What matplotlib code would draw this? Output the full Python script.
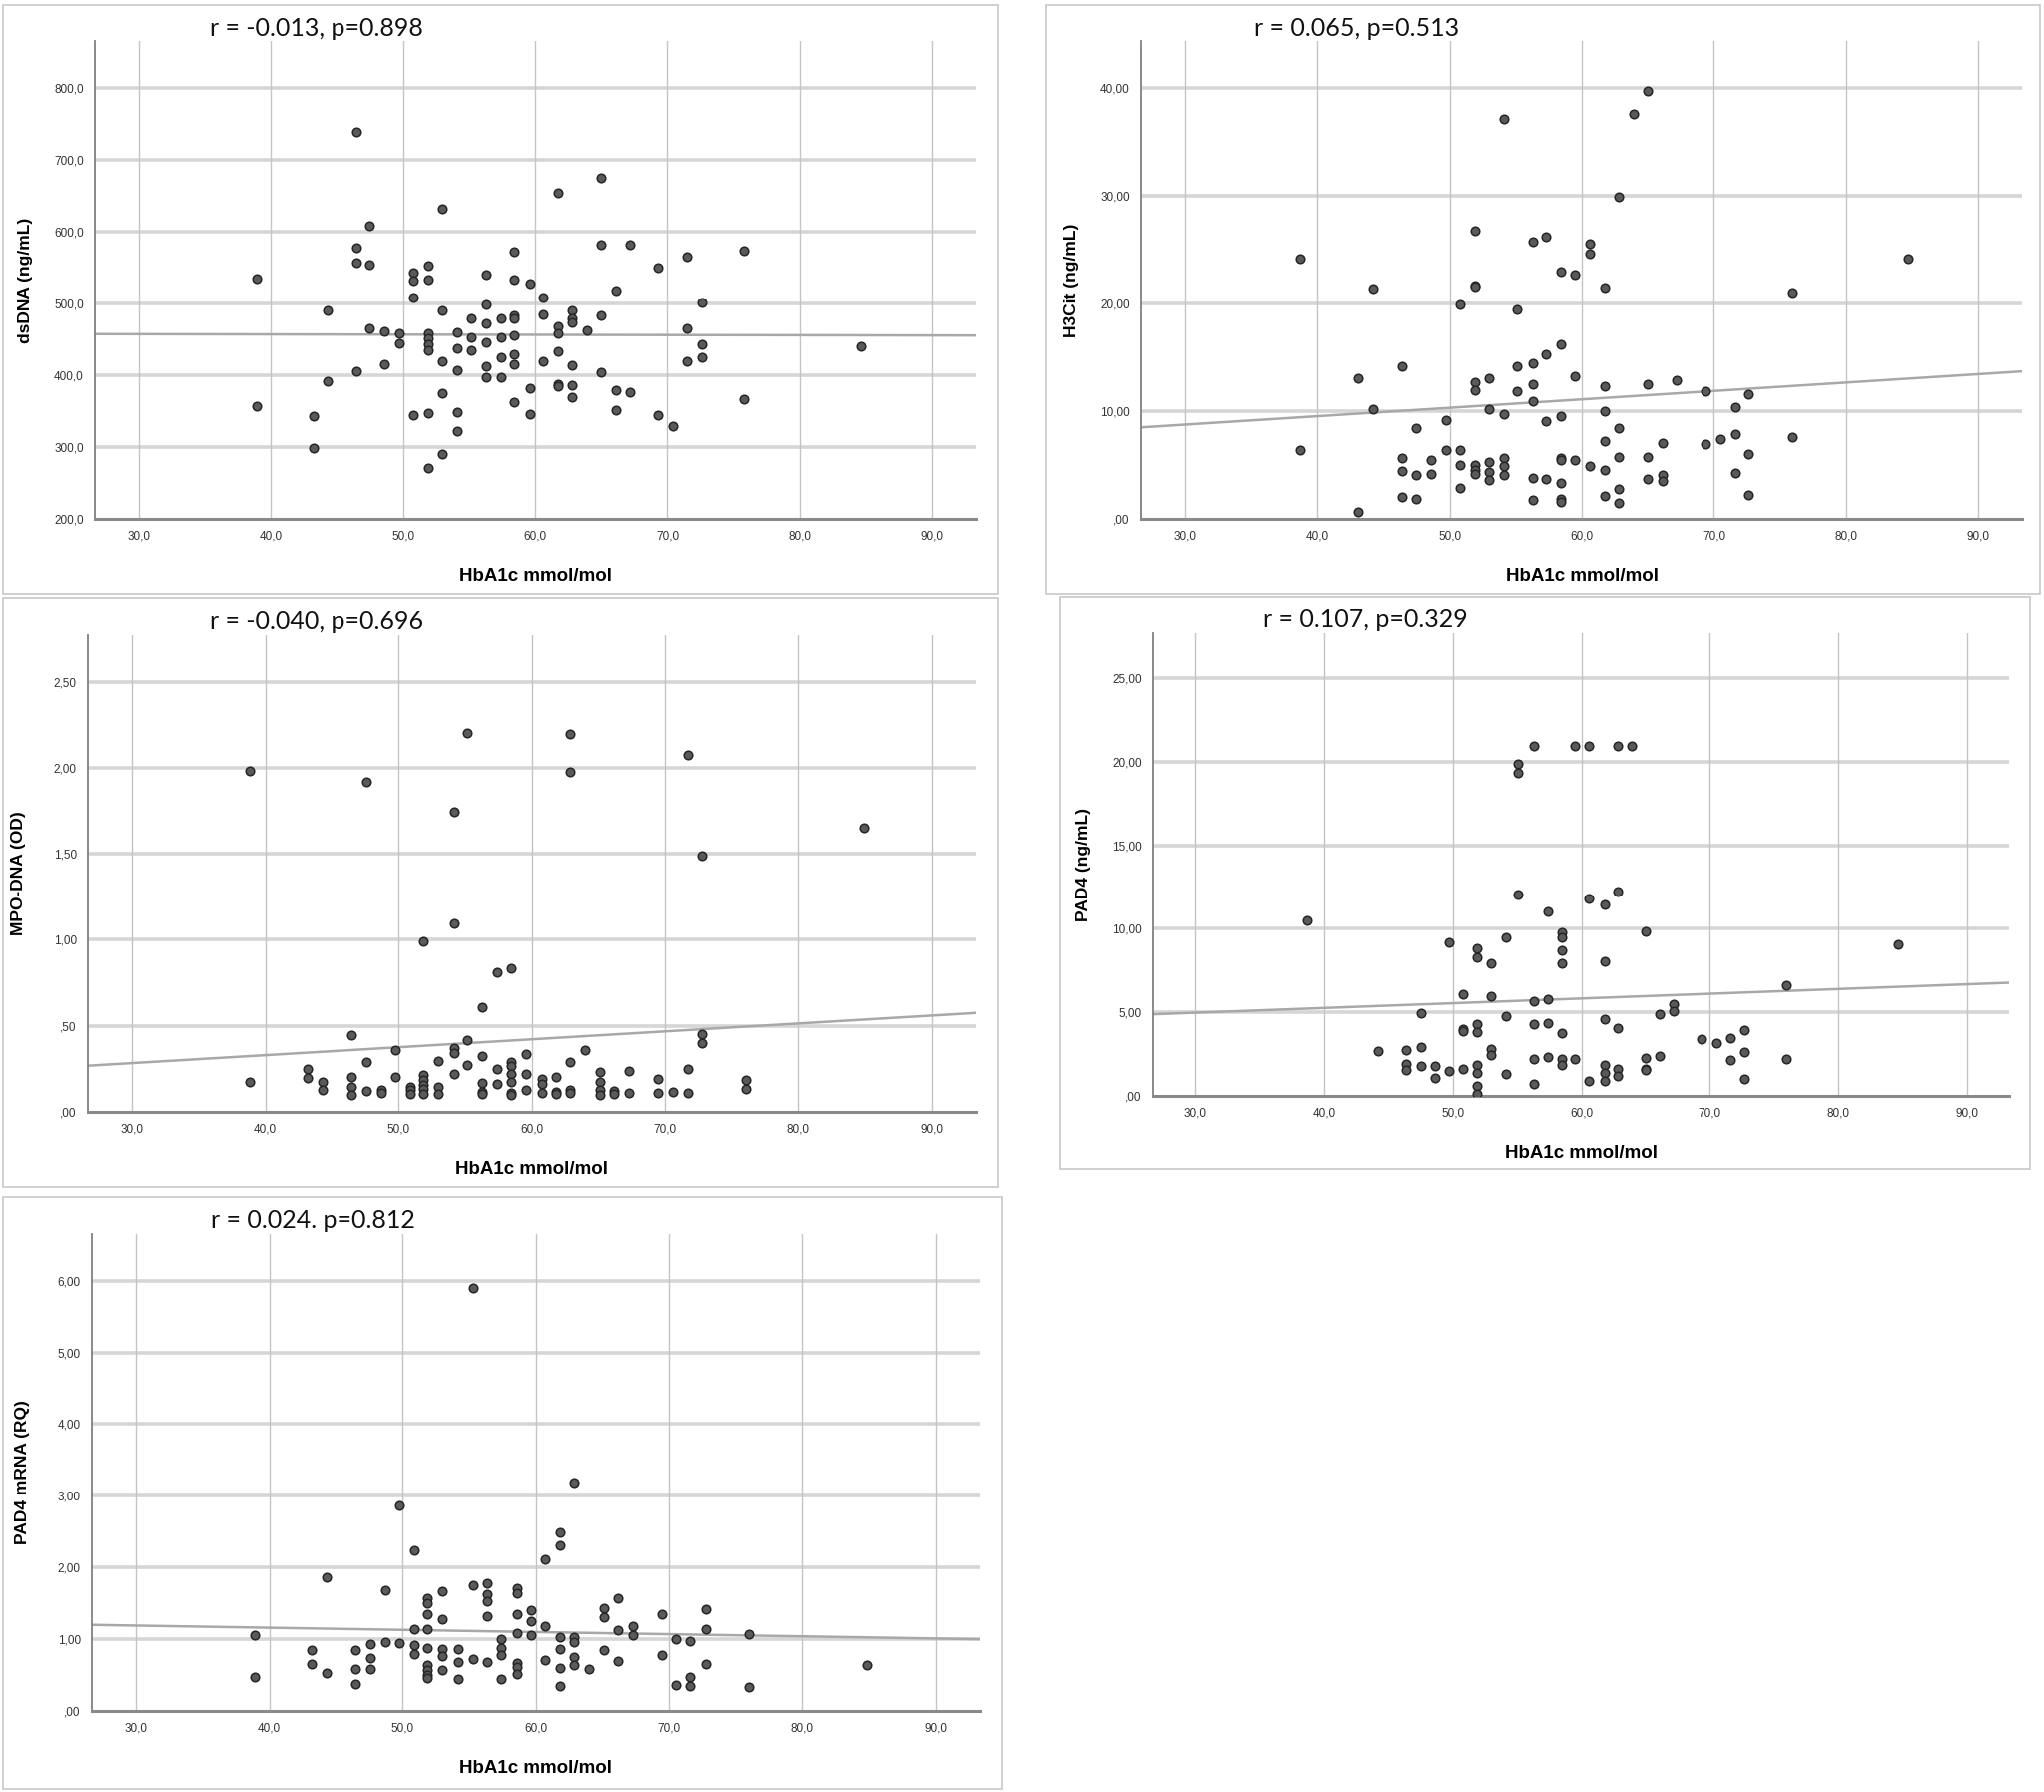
import numpy as np
import matplotlib
matplotlib.use("Agg")
import matplotlib.pyplot as plt
from matplotlib.patches import Rectangle
from matplotlib.ticker import FuncFormatter

plt.rcParams['font.family'] = ['Liberation Sans', 'DejaVu Sans']

# --- data ---
hba1c_dsdna = [46.5, 38.9, 38.9, 43.2, 43.2, 44.3, 44.3, 46.5, 46.5, 46.5, 47.5, 47.5, 47.5,
               48.6, 48.6, 49.7, 49.7, 50.8, 50.8, 50.8, 50.8, 51.9, 51.9, 51.9, 51.9, 51.9,
               51.9, 51.9, 51.9, 53.0, 53.0, 53.0, 53.0, 53.0, 54.1, 54.1, 54.1, 54.1, 54.1,
               55.2, 55.2, 55.2, 56.3, 56.3, 56.3, 56.3, 56.3, 56.3, 57.4, 57.4, 57.4, 57.4,
               58.4, 58.4, 58.4, 58.4, 58.4, 58.4, 58.4, 58.4, 59.6, 59.6, 59.6, 60.6, 60.6,
               60.6, 61.7, 61.7, 61.7, 61.7, 61.7, 61.7, 62.8, 62.8, 62.8, 62.8, 62.8, 62.8,
               63.9, 65.0, 65.0, 65.0, 65.0, 66.1, 66.1, 66.1, 67.2, 67.2, 69.3, 69.3, 70.4,
               71.5, 71.5, 71.5, 72.6, 72.6, 72.6, 75.8, 75.8, 84.6]
dsdna = [739, 535, 357, 343, 299, 392, 490, 578, 558, 406, 609, 555, 465,
         461, 415, 459, 445, 544, 532, 509, 345, 553, 534, 459, 452, 444,
         435, 348, 271, 632, 490, 419, 375, 291, 460, 438, 407, 349, 323,
         479, 453, 435, 541, 499, 473, 446, 413, 398, 480, 453, 425, 398,
         573, 534, 484, 480, 456, 430, 415, 363, 528, 382, 346, 509, 485,
         419, 654, 468, 459, 434, 388, 385, 490, 480, 474, 414, 387, 370,
         463, 675, 582, 483, 404, 518, 380, 352, 583, 377, 551, 344, 330,
         566, 466, 420, 502, 443, 425, 574, 367, 441]

hba1c_h3cit = [38.7, 38.7, 43.1, 43.1, 44.2, 44.2, 46.4, 46.4, 46.4, 46.4, 47.5, 47.5, 47.5,
               48.6, 48.6, 49.7, 49.7, 50.8, 50.8, 50.8, 50.8, 51.9, 51.9, 51.9, 51.9, 51.9,
               51.9, 51.9, 51.9, 53.0, 53.0, 53.0, 53.0, 53.0, 54.1, 54.1, 54.1, 54.1, 54.1,
               55.1, 55.1, 55.1, 56.3, 56.3, 56.3, 56.3, 56.3, 56.3, 57.3, 57.3, 57.3, 57.3,
               58.4, 58.4, 58.4, 58.4, 58.4, 58.4, 58.4, 58.4, 59.5, 59.5, 59.5, 60.6, 60.6,
               60.6, 61.7, 61.7, 61.7, 61.7, 61.7, 61.7, 62.8, 62.8, 62.8, 62.8, 62.8, 63.9,
               65.0, 65.0, 65.0, 65.0, 66.1, 66.1, 66.1, 67.2, 69.4, 69.4, 70.5, 71.6, 71.6,
               71.6, 72.6, 72.6, 72.6, 75.9, 75.9, 84.7]
h3cit = [24.2, 6.36, 13.04, 0.64, 21.4, 10.2, 14.2, 5.65, 4.44, 2.02, 8.42, 4.08, 1.85,
         5.47, 4.16, 9.17, 6.36, 19.9, 6.36, 5.0, 2.88, 26.8, 21.7, 21.6, 12.7, 12.0,
         5.04, 4.58, 4.16, 13.1, 10.2, 5.29, 4.33, 3.62, 37.2, 9.77, 5.68, 4.87, 4.09,
         19.5, 14.2, 11.9, 25.8, 14.5, 12.5, 10.9, 3.84, 1.78, 26.2, 15.3, 9.13, 3.69,
         23.0, 16.2, 9.59, 5.68, 5.47, 3.37, 1.85, 1.56, 22.7, 13.25, 5.47, 25.6, 24.65,
         4.87, 21.5, 12.3, 10.0, 7.25, 4.5, 2.1, 29.9, 8.45, 5.75, 2.74, 1.49, 37.6,
         39.8, 12.5, 5.75, 3.73, 7.07, 4.05, 3.55, 12.9, 11.9, 6.93, 7.42, 10.4, 7.89,
         4.26, 11.6, 6.04, 2.27, 21.0, 7.6, 24.2]

hba1c_mpo = [38.8, 38.8, 43.2, 43.2, 44.3, 44.3, 46.5, 46.5, 46.5, 46.5, 47.6, 47.6, 47.6,
             48.7, 48.7, 49.8, 49.8, 50.9, 50.9, 50.9, 51.9, 51.9, 51.9, 51.9, 51.9, 51.9,
             53.0, 53.0, 53.0, 54.2, 54.2, 54.2, 54.2, 54.2, 55.2, 55.2, 55.2, 56.3, 56.3,
             56.3, 56.3, 56.3, 57.4, 57.4, 57.4, 58.5, 58.5, 58.5, 58.5, 58.5, 58.5, 58.5,
             59.6, 59.6, 59.6, 60.8, 60.8, 60.8, 61.8, 61.8, 61.8, 62.9, 62.9, 62.9, 62.9,
             62.9, 64.0, 65.1, 65.1, 65.1, 65.1, 66.2, 66.2, 67.3, 67.3, 69.5, 69.5, 70.6,
             71.7, 71.7, 71.7, 72.8, 72.8, 72.8, 76.1, 76.1, 84.9]
mpo_dna = [1.98, 0.171, 0.249, 0.198, 0.173, 0.127, 0.447, 0.204, 0.144, 0.100, 1.92, 0.291, 0.122,
           0.129, 0.109, 0.360, 0.200, 0.144, 0.129, 0.107, 0.991, 0.216, 0.184, 0.158, 0.131, 0.107,
           0.296, 0.144, 0.107, 1.742, 1.098, 0.373, 0.344, 0.222, 2.204, 0.418, 0.271, 0.611, 0.327,
           0.167, 0.118, 0.107, 0.811, 0.247, 0.160, 0.836, 0.287, 0.264, 0.222, 0.171, 0.111, 0.098,
           0.338, 0.218, 0.127, 0.189, 0.160, 0.109, 0.202, 0.118, 0.104, 2.196, 1.976, 0.291, 0.127,
           0.109, 0.358, 0.231, 0.171, 0.127, 0.100, 0.122, 0.104, 0.238, 0.109, 0.189, 0.111, 0.116,
           2.076, 0.249, 0.109, 1.487, 0.451, 0.400, 0.184, 0.131, 1.649]

hba1c_pad4 = [38.7, 44.2, 46.4, 46.4, 46.4, 47.5, 47.5, 47.5, 48.6, 48.6, 49.7, 49.7, 50.8,
              50.8, 50.8, 50.8, 51.9, 51.9, 51.9, 51.9, 51.9, 51.9, 51.9, 51.9, 53.0, 53.0,
              53.0, 53.0, 54.1, 54.1, 54.1, 55.1, 55.1, 55.1, 56.3, 56.3, 56.3, 56.3, 56.3,
              57.4, 57.4, 57.4, 57.4, 58.5, 58.5, 58.5, 58.5, 58.5, 58.5, 58.5, 59.5, 59.5,
              60.6, 60.6, 60.6, 61.8, 61.8, 61.8, 61.8, 61.8, 61.8, 62.8, 62.8, 62.8, 62.8,
              62.8, 63.9, 65.0, 65.0, 65.0, 65.0, 66.1, 66.1, 67.2, 67.2, 69.4, 70.5, 71.6,
              71.6, 72.7, 72.7, 72.7, 76.0, 76.0, 84.7]
pad4 = [10.52, 2.70, 2.77, 1.89, 1.53, 4.97, 2.95, 1.78, 1.82, 1.08, 9.22, 1.51, 6.07,
        3.98, 3.89, 1.62, 8.84, 8.27, 4.27, 3.84, 1.87, 1.37, 0.58, 0.11, 7.94, 5.96,
        2.83, 2.45, 9.47, 4.77, 1.33, 12.05, 19.85, 19.33, 20.98, 5.67, 4.32, 2.23, 0.74,
        11.02, 5.78, 4.38, 2.32, 9.80, 9.47, 8.72, 7.94, 3.75, 2.20, 1.84, 20.98, 2.23,
        20.98, 11.83, 0.90, 11.47, 8.07, 4.59, 1.84, 1.39, 0.90, 20.98, 12.21, 4.07, 1.60,
        1.19, 20.98, 9.87, 2.25, 1.60, 1.53, 4.88, 2.36, 5.49, 5.08, 3.39, 3.15, 3.44,
        2.14, 3.93, 2.65, 1.01, 6.61, 2.23, 9.06]

hba1c_mrna = [38.9, 38.9, 43.2, 43.2, 44.3, 44.3, 46.5, 46.5, 46.5, 47.6, 47.6, 47.6, 48.7,
              48.7, 49.8, 49.8, 50.9, 50.9, 50.9, 50.9, 51.9, 51.9, 51.9, 51.9, 51.9, 51.9,
              51.9, 51.9, 51.9, 53.0, 53.0, 53.0, 53.0, 53.0, 54.2, 54.2, 54.2, 55.3, 55.3,
              55.3, 56.4, 56.4, 56.4, 56.4, 56.4, 57.4, 57.4, 57.4, 57.4, 58.6, 58.6, 58.6,
              58.6, 58.6, 58.6, 58.6, 59.7, 59.7, 59.7, 60.7, 60.7, 60.7, 61.8, 61.8, 61.8,
              61.8, 61.8, 61.8, 62.9, 62.9, 62.9, 62.9, 62.9, 64.0, 65.1, 65.1, 65.1, 66.2,
              66.2, 66.2, 67.3, 67.3, 69.5, 69.5, 70.5, 70.5, 71.6, 71.6, 71.6, 72.8, 72.8,
              72.8, 76.0, 76.0, 84.8]
pad4_mrna = [1.056, 0.475, 0.843, 0.651, 1.861, 0.523, 0.843, 0.581, 0.373, 0.928, 0.741, 0.587, 1.685,
             0.960, 2.869, 0.944, 2.235, 1.141, 0.923, 0.795, 1.579, 1.509, 1.349, 1.147, 0.880, 0.640,
             0.571, 0.501, 0.459, 1.669, 1.285, 0.859, 0.768, 0.565, 0.864, 0.677, 0.448, 1.749, 5.893,
             0.720, 1.781, 1.632, 1.525, 1.328, 0.683, 0.997, 0.880, 0.779, 0.448, 1.707, 1.648, 1.349,
             1.083, 0.672, 0.619, 0.517, 1.403, 1.248, 1.061, 2.117, 1.189, 0.709, 2.485, 2.304, 1.024,
             0.869, 0.603, 0.341, 3.179, 1.035, 0.960, 0.752, 0.645, 0.581, 1.435, 1.312, 0.853, 1.568,
             1.125, 0.699, 1.179, 1.056, 1.349, 0.784, 1.003, 0.357, 0.976, 0.475, 0.352, 1.424, 1.141,
             0.651, 1.072, 0.336, 0.640]

x_ticks = [30, 40, 50, 60, 70, 80, 90]
titles = ["r = -0.013, p=0.898", "r = 0.065, p=0.513", "r = -0.040, p=0.696",
          "r = 0.107, p=0.329", "r = 0.024. p=0.812"]
ylabels = ["dsDNA (ng/mL)", "H3Cit (ng/mL)", "MPO-DNA (OD)", "PAD4 (ng/mL)", "PAD4 mRNA (RQ)"]
xlabel = "HbA1c mmol/mol"

W, H = 2047, 1795
fig = plt.figure(figsize=(W / 100, H / 100), dpi=100)
fig.patch.set_facecolor('white')


def comma1(v, pos=None):
    return f"{v:.1f}".replace('.', ',')


def comma2(v, pos=None):
    s = f"{v:.2f}".replace('.', ',')
    return s[1:] if s.startswith('0,') else s


# panel boxes (pixel): frame, axes, title position, ylim, yticks, formatter
panels = [
    dict(frame=(3, 5, 999, 595), ax=(95, 41, 977, 520), title=(210, 28),
         x=hba1c_dsdna, y=dsdna, ylim=(200, 866), yticks=[200, 300, 400, 500, 600, 700, 800], fmt=comma1),
    dict(frame=(1048, 5, 2043, 595), ax=(1143, 41, 2025, 520), title=(1256, 28),
         x=hba1c_h3cit, y=h3cit, ylim=(0, 44.4), yticks=[0, 10, 20, 30, 40], fmt=comma2),
    dict(frame=(3, 599, 999, 1189), ax=(88, 636, 977, 1114), title=(210, 623),
         x=hba1c_mpo, y=mpo_dna, ylim=(0, 2.77), yticks=[0, 0.5, 1, 1.5, 2, 2.5], fmt=comma2),
    dict(frame=(1062, 598, 2033, 1171), ax=(1155, 634, 2012, 1098), title=(1265, 620),
         x=hba1c_pad4, y=pad4, ylim=(0, 27.7), yticks=[0, 5, 10, 15, 20, 25], fmt=comma2),
    dict(frame=(3, 1199, 1003, 1792), ax=(92, 1236, 981, 1714), title=(211, 1222),
         x=hba1c_mrna, y=pad4_mrna, ylim=(0, 6.65), yticks=[0, 1, 2, 3, 4, 5, 6], fmt=comma2),
]

for i, p in enumerate(panels):
    fl, ft, fr, fb = p['frame']
    fig.patches.append(Rectangle((fl / W, 1 - fb / H), (fr - fl) / W, (fb - ft) / H,
                                 transform=fig.transFigure, fill=False,
                                 edgecolor='#c8c8c8', lw=1.2, zorder=0))
    l, t, r, b = p['ax']
    ax = fig.add_axes([l / W, 1 - b / H, (r - l) / W, (b - t) / H])
    ax.set_xlim(26.7, 93.3)
    ax.set_ylim(*p['ylim'])
    ax.set_xticks(x_ticks)
    ax.set_yticks(p['yticks'])
    ax.xaxis.set_major_formatter(FuncFormatter(comma1))
    ax.yaxis.set_major_formatter(FuncFormatter(p['fmt']))
    ax.tick_params(length=0, labelsize=8.5, colors='#333333', pad=8)
    for yv in p['yticks'][1:]:
        ax.axhline(yv, color='#d6d6d6', lw=2.6, zorder=1)
    for xv in x_ticks:
        ax.axvline(xv, color='#c4c4c4', lw=1.0, zorder=1)
    for s in ['top', 'right']:
        ax.spines[s].set_visible(False)
    ax.spines['left'].set_color('#808080')
    ax.spines['left'].set_linewidth(1.3)
    ax.spines['bottom'].set_color('#8a8a8a')
    ax.spines['bottom'].set_linewidth(2.2)

    xs = np.array(p['x'])
    ys = np.array(p['y'])
    ax.scatter(xs, ys, s=38, facecolor='#5a5a5a', edgecolor='#262626', linewidth=1.1, zorder=3)
    k, c = np.polyfit(xs, ys, 1)
    xx = np.array(ax.get_xlim())
    ax.plot(xx, k * xx + c, color='#a8a8a8', lw=1.8, zorder=2)

    ax.set_ylabel(ylabels[i], fontsize=12.5, fontweight='bold')
    ax.yaxis.set_label_coords(-62 / (r - l), 0.5)
    ax.set_xlabel(xlabel, fontsize=13.5, fontweight='bold')
    ax.xaxis.set_label_coords(0.5, -49 / (b - t))

    tx, ty = p['title']
    fig.text(tx / W, 1 - ty / H, titles[i], fontsize=18, ha='left', va='center',
             color='#111111', family=['Lato', 'Liberation Sans', 'DejaVu Sans'])

fig.savefig('out.png', dpi=100, facecolor='white')
